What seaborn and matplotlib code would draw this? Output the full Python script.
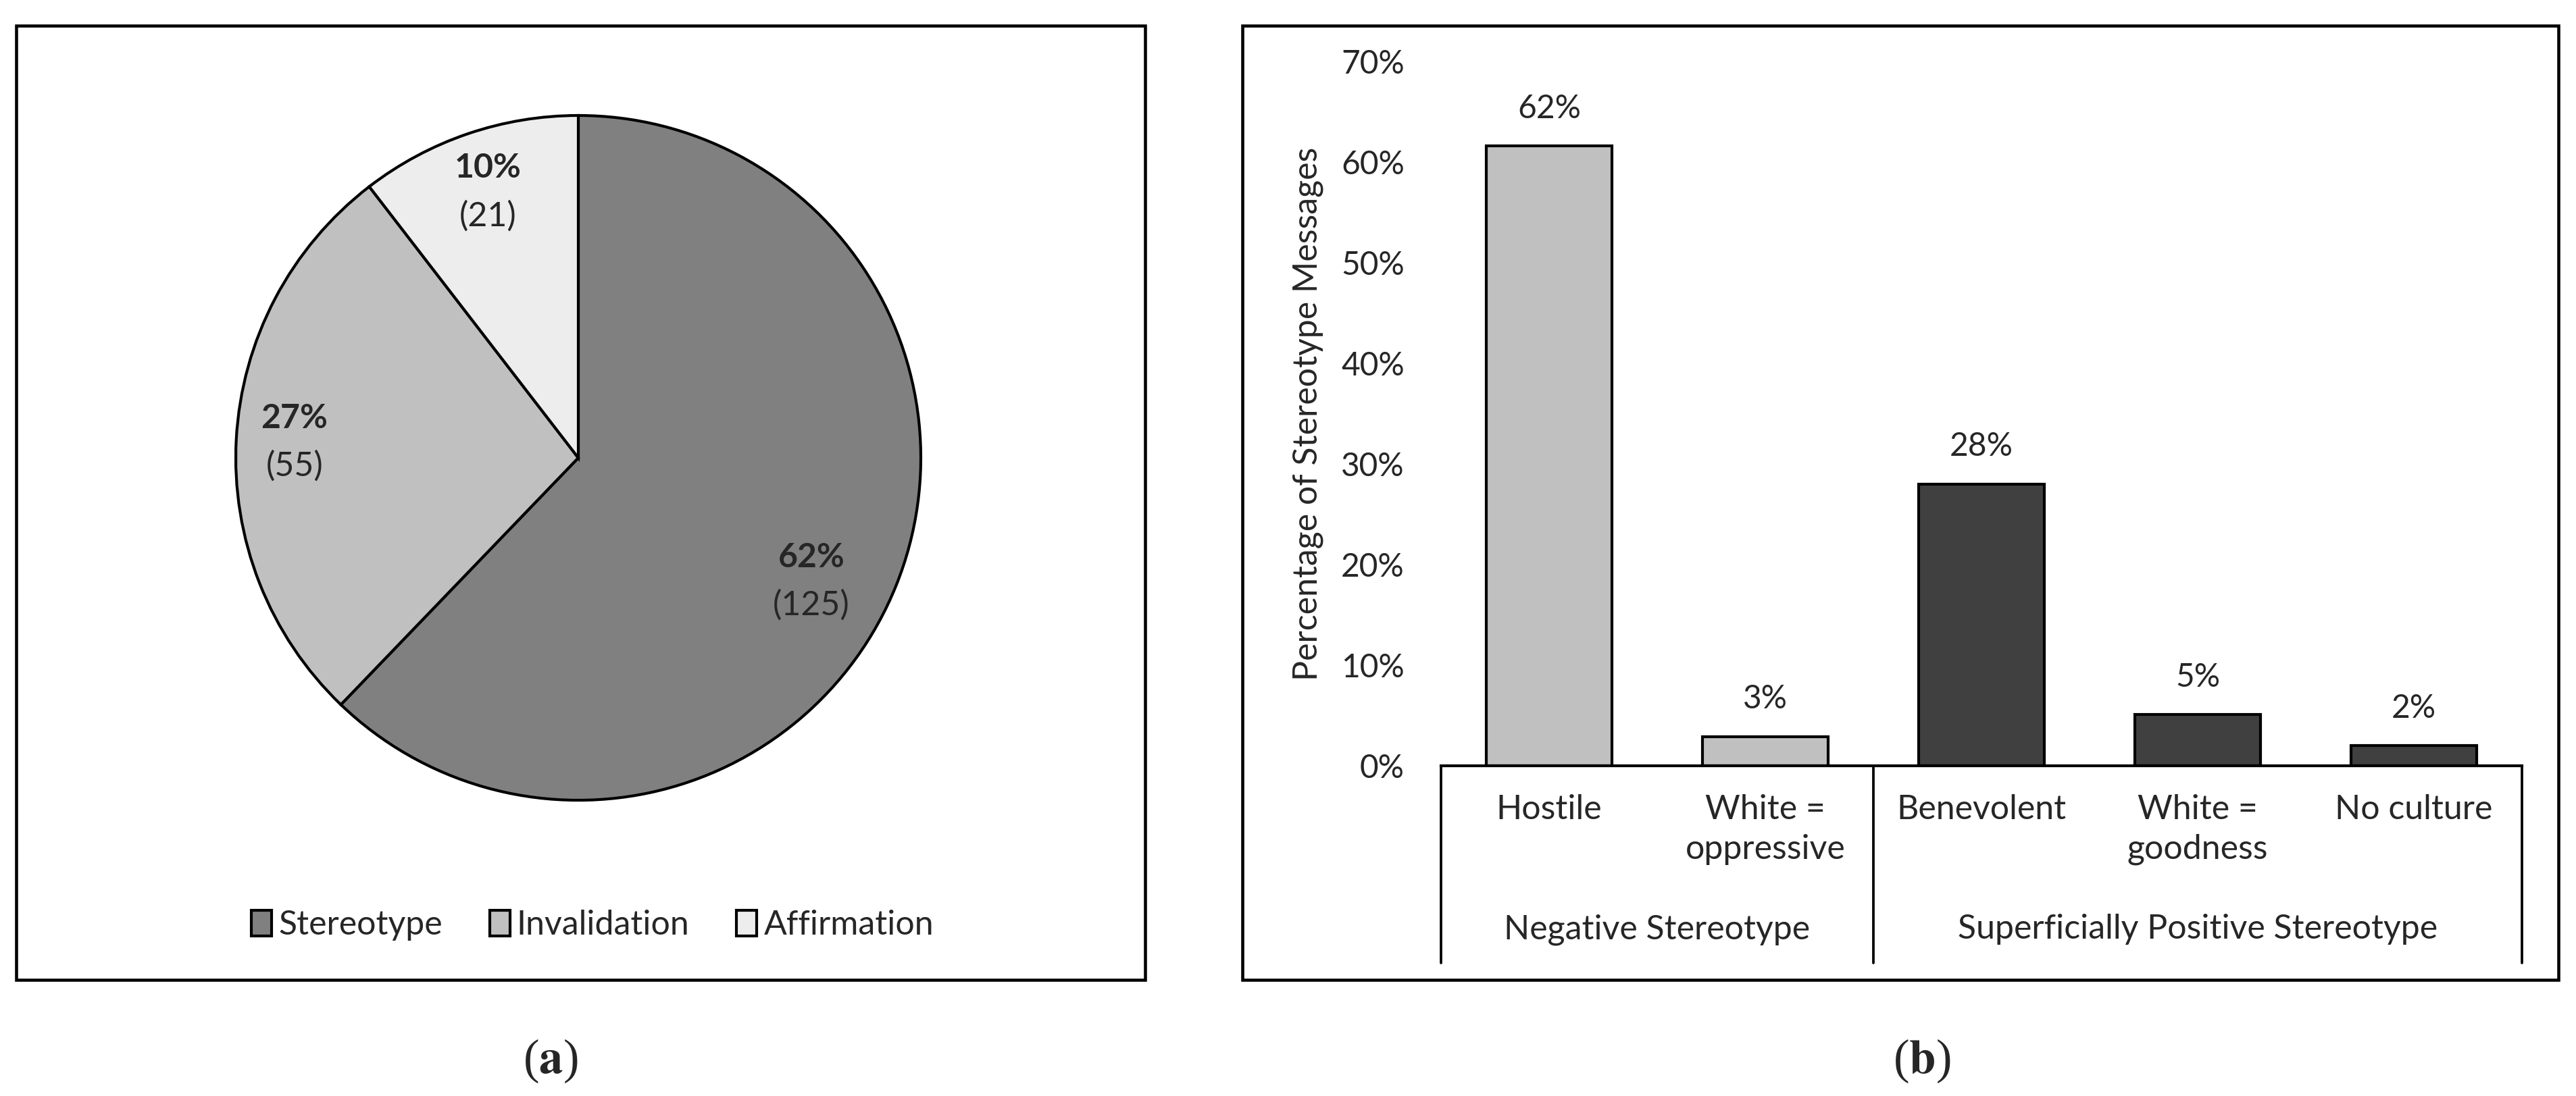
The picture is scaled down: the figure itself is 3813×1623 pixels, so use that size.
import matplotlib
matplotlib.use("Agg")
import matplotlib.pyplot as plt
from matplotlib.patches import Rectangle
import numpy as np
import seaborn as sns

# panel (a): all coded messages
msg_types = ["Stereotype", "Invalidation", "Affirmation"]
msg_counts = [125, 55, 21]
msg_colors = ["#808080", "#c0c0c0", "#ededed"]

# panel (b): kinds of stereotype messages (% of stereotype messages)
sub_types = ["Hostile", "White =\noppressive", "Benevolent", "White =\ngoodness", "No culture"]
sub_pct = [61.6, 2.9, 28.0, 5.1, 2.0]
sub_group = ["Negative Stereotype", "Negative Stereotype",
             "Superficially Positive Stereotype", "Superficially Positive Stereotype",
             "Superficially Positive Stereotype"]
group_colors = {"Negative Stereotype": "#c0c0c0",
                "Superficially Positive Stereotype": "#404040"}
y_ticks = [0, 10, 20, 30, 40, 50, 60, 70]

W, H, DPI = 3813, 1623, 300

sns.set_theme(style="white")
plt.rcParams['font.family'] = ['Lato', 'DejaVu Sans']
plt.rcParams['mathtext.fontset'] = 'stix'


def px_rect(x0, y0, x1, y1):
    # pixel box (origin top-left) -> figure fraction [left, bottom, width, height]
    return [x0 / W, 1 - y1 / H, (x1 - x0) / W, (y1 - y0) / H]


fig = plt.figure(figsize=(W / DPI, H / DPI), dpi=DPI)

# frames around both panels
for x0, x1 in [(24, 1695), (1839, 3787)]:
    l, b, w, h = px_rect(x0, 38, x1, 1451)
    fig.add_artist(Rectangle((l, b), w, h, transform=fig.transFigure, fill=False,
                             edgecolor="black", linewidth=1.1))

# ---- (a) pie ----
ax_pie = fig.add_axes(px_rect(349, 171, 1363, 1185))
wedges, _ = ax_pie.pie(msg_counts, colors=msg_colors, startangle=90, counterclock=False,
                       wedgeprops=dict(edgecolor="black", linewidth=1.0))
for w in wedges:
    w.set_clip_on(False)
ax_pie.set_xlim(-1, 1)
ax_pie.set_ylim(-1, 1)
ax_pie.set_axis_off()

total = sum(msg_counts)
label_dist = [0.77, 0.83, 0.82]
label_turn = [-6, 0, 0]   # degrees, Excel "best fit" nudges
for w, n, d, t in zip(wedges, msg_counts, label_dist, label_turn):
    ang = np.deg2rad((w.theta1 + w.theta2) / 2 + t)
    x, y = d * np.cos(ang), d * np.sin(ang)
    ax_pie.text(x, y + 0.07, f"{n / total:.0%}", ha="center", va="center",
                fontsize=12, fontweight="bold")
    ax_pie.text(x, y - 0.07, f"({n})", ha="center", va="center", fontsize=12)

fig.legend(wedges, msg_types, loc="center", bbox_to_anchor=(877 / W, 1 - 1370 / H),
           ncol=3, frameon=False, fontsize=12, handlelength=0.6, handleheight=0.8,
           handletextpad=0.2, columnspacing=1.4)

# ---- (b) bars ----
ax_bar = fig.add_axes(px_rect(2133, 91, 3733, 1134))
sns.barplot(x=sub_types, y=sub_pct, hue=sub_group, palette=group_colors, dodge=False,
            width=0.58, edgecolor="black", linewidth=1.0, legend=False, ax=ax_bar)
ax_bar.set_xlim(-0.5, len(sub_types) - 0.5)
ax_bar.set_ylim(0, 70)
ax_bar.set_yticks(y_ticks)
ax_bar.set_yticklabels([f"{t}%" for t in y_ticks])
ax_bar.tick_params(axis="y", length=0, pad=13, labelsize=11.5)
ax_bar.tick_params(axis="x", length=0, pad=10, labelsize=12)
for lbl in ax_bar.get_xticklabels():
    lbl.set_linespacing(1.35)
for s in ["left", "top", "right"]:
    ax_bar.spines[s].set_visible(False)
ax_bar.spines["bottom"].set_color("black")
ax_bar.spines["bottom"].set_linewidth(1.0)
ax_bar.set_xlabel("")
ax_bar.set_ylabel("Percentage of Stereotype Messages", fontsize=12)
ax_bar.yaxis.set_label_coords(-0.109, 0.5)

for cont in ax_bar.containers:
    ax_bar.bar_label(cont, fmt="{:.0f}%", padding=8, fontsize=11.5)

# group brackets below the category labels
trans = ax_bar.get_xaxis_transform()
sep_depth = -(1426 - 1134) / (1134 - 91)
groups = list(dict.fromkeys(sub_group))
bounds = [-0.5]
for g in groups:
    idx = [i for i, s in enumerate(sub_group) if s == g]
    ax_bar.text((idx[0] + idx[-1]) / 2, -(1390 - 1134) / (1134 - 91), g,
                transform=trans, ha="center", va="baseline", fontsize=12)
    bounds.append(idx[-1] + 0.5)
for xb in bounds:
    ax_bar.plot([xb, xb], [0, sep_depth], transform=trans, color="black",
                linewidth=0.9, clip_on=False)

# panel letters
for lab, xc in [("a", 815), ("b", 2845)]:
    fig.text(xc / W, 1 - 1571 / H, "($\\mathbf{" + lab + "}$)", family="Liberation Serif",
             fontsize=17, ha="center", va="center")

fig.savefig("out.png", dpi=DPI)
